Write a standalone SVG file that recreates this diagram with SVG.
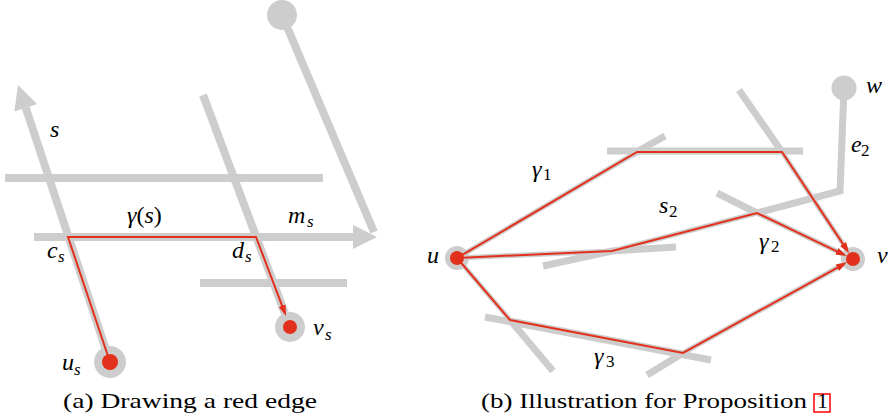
<svg xmlns="http://www.w3.org/2000/svg" width="896" height="418" viewBox="0 0 896 418">
<defs>
<marker id="ra" markerUnits="userSpaceOnUse" markerWidth="12" markerHeight="10" viewBox="0 0 12 10" refX="7" refY="5" orient="auto">
<path d="M0,1.3 L11,5 L0,8.7 z" fill="#e2301c"/>
</marker>
</defs>
<rect width="896" height="418" fill="#fff"/>

<g id="a-lines" stroke="#cdcdcd" stroke-width="8" fill="none">
<path d="M110,362 L25.7,107.7"/>
<path d="M5,178 L323,178"/>
<path d="M34,237 L353,237"/>
<path d="M200,283 L347,283"/>
<path d="M203,95 L290,327"/>
<path d="M282,15 L374,232"/>
</g>
<g id="a-arrowheads" fill="#cdcdcd">
<polygon points="18,85 37.1,103.9 14.3,111.5"/>
<polygon points="353,225 377,237 353,249"/>
</g>
<g id="a-top-node"><circle fill="#cdcdcd" cx="282" cy="15" r="15"/></g>
<g id="a-us"><circle fill="#cdcdcd" cx="110" cy="362" r="16"/><circle fill="#e2301c" cx="110" cy="362" r="8"/></g>
<g id="a-vs"><circle fill="#cdcdcd" cx="290" cy="327" r="15"/><circle fill="#e2301c" cx="290" cy="327" r="7"/></g>
<g id="a-connectors" stroke="#e2301c" stroke-width="2" fill="none">
<path d="M110,362 L68,237 L256,237 L284.6,312.3" marker-end="url(#ra)"/>
</g>
<g id="a-labels" fill="#000">
<text font-family="Liberation Serif" font-style="italic" font-size="24" x="50" y="137">s</text>
<text font-family="Liberation Serif" font-style="italic" font-size="24" x="127" y="223">γ<tspan font-style="normal">(</tspan>s<tspan font-style="normal">)</tspan></text>
<text font-family="Liberation Serif" font-style="italic" font-size="24" x="288" y="223">m</text>
<text font-family="Liberation Serif" font-style="italic" font-size="17" x="307" y="227">s</text>
<text font-family="Liberation Serif" font-style="italic" font-size="24" x="47" y="258">c</text>
<text font-family="Liberation Serif" font-style="italic" font-size="17" x="58" y="262">s</text>
<text font-family="Liberation Serif" font-style="italic" font-size="24" x="232" y="258">d</text>
<text font-family="Liberation Serif" font-style="italic" font-size="17" x="245" y="262">s</text>
<text font-family="Liberation Serif" font-style="italic" font-size="24" x="313" y="335">v</text>
<text font-family="Liberation Serif" font-style="italic" font-size="17" x="325" y="340">s</text>
<text font-family="Liberation Serif" font-style="italic" font-size="24" x="62" y="370">u</text>
<text font-family="Liberation Serif" font-style="italic" font-size="17" x="74" y="375">s</text>
</g>
<g id="a-caption" fill="#000">
<text font-family="Liberation Serif" font-size="22" x="63" y="408" textLength="254" lengthAdjust="spacingAndGlyphs">(a) Drawing a red edge</text>
</g>

<g id="b-bars" stroke="#cdcdcd" stroke-width="7" fill="none">
<path d="M607,151 L803,151"/>
<path d="M631,155 L665,136"/>
<path d="M739,90 L782,152"/>
<path d="M844,88 L840,191 L757,213"/>
<path d="M717,193 L757,213"/>
<path d="M543,266 L612,251 L676,247"/>
<path d="M485,317 L711,360"/>
<path d="M510,320 L553,371"/>
<path d="M647,375 L683,353"/>
</g>
<g id="b-highlights" stroke="#cdcdcd" stroke-width="5" fill="none">
<path d="M457,258 L637,152 L782,152 L853,259"/>
<path d="M457,258 L612,251 L757,213 L853,259"/>
<path d="M457,258 L510,320 L683,353 L853,259"/>
</g>
<g id="b-w"><circle fill="#cdcdcd" cx="844" cy="88" r="12.5"/></g>
<g id="b-u"><circle fill="#cdcdcd" cx="457" cy="258" r="12"/><circle fill="#e2301c" cx="457" cy="258" r="7"/></g>
<g id="b-v"><circle fill="#cdcdcd" cx="853" cy="259" r="12"/><circle fill="#e2301c" cx="853" cy="259" r="7"/></g>
<g id="b-connectors" stroke="#e2301c" stroke-width="2" fill="none">
<path d="M457,258 L637,152 L782,152 L846.9,249.9" marker-end="url(#ra)"/>
<path d="M457,258 L612,251 L757,213 L843.1,254.3" marker-end="url(#ra)"/>
<path d="M457,258 L510,320 L683,353 L843.4,264.3" marker-end="url(#ra)"/>
</g>
<g id="b-labels" fill="#000">
<text font-family="Liberation Serif" font-style="italic" font-size="24" x="427" y="263">u</text>
<text font-family="Liberation Serif" font-style="italic" font-size="24" x="877" y="263">v</text>
<text font-family="Liberation Serif" font-style="italic" font-size="24" x="866" y="93">w</text>
<text font-family="Liberation Serif" font-style="italic" font-size="24" x="851" y="152">e</text>
<text font-family="Liberation Serif" font-size="17" x="861" y="156">2</text>
<text font-family="Liberation Serif" font-style="italic" font-size="24" x="532" y="177">γ</text>
<text font-family="Liberation Serif" font-size="17" x="543" y="180">1</text>
<text font-family="Liberation Serif" font-style="italic" font-size="24" x="659" y="213">s</text>
<text font-family="Liberation Serif" font-size="17" x="669" y="217">2</text>
<text font-family="Liberation Serif" font-style="italic" font-size="24" x="759" y="249">γ</text>
<text font-family="Liberation Serif" font-size="17" x="771" y="252">2</text>
<text font-family="Liberation Serif" font-style="italic" font-size="24" x="594" y="364">γ</text>
<text font-family="Liberation Serif" font-size="17" x="606" y="367">3</text>
</g>
<g id="b-caption" fill="#000">
<text font-family="Liberation Serif" font-size="22" x="481" y="408" textLength="326" lengthAdjust="spacingAndGlyphs">(b) Illustration for Proposition</text>
<rect x="814" y="394" width="16" height="18" fill="none" stroke="#ff0000" stroke-width="1.5"/>
<text font-family="Liberation Serif" font-size="22" x="817" y="408">1</text>
</g>
</svg>
